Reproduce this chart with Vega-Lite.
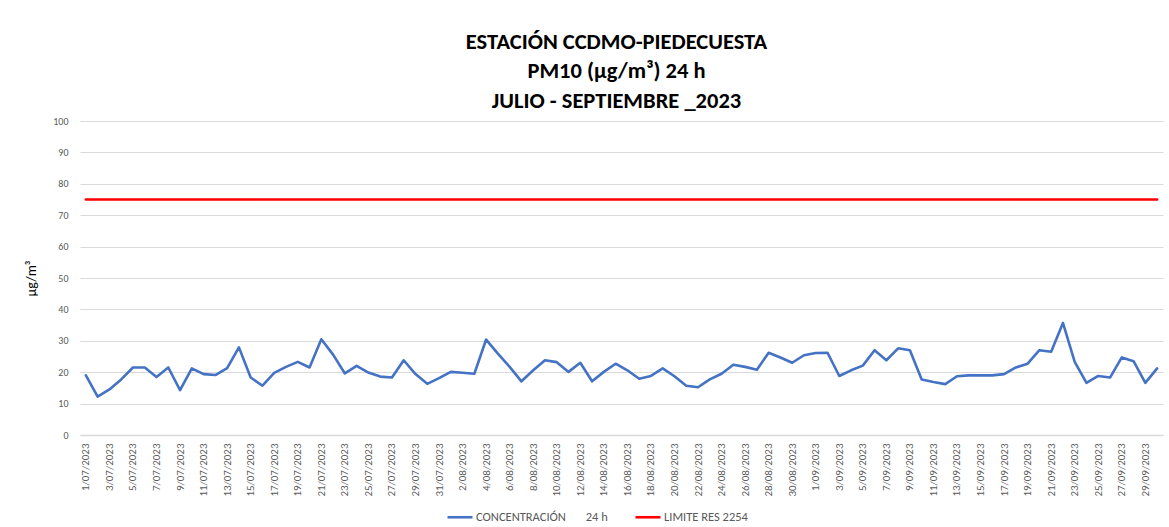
{
  "$schema": "https://vega.github.io/schema/vega-lite/v6.json",
  "autosize": {"type": "none"},
  "width": 1083,
  "height": 314,
  "padding": {"left": 80, "top": 121, "right": 6, "bottom": 92},
  "background": "white",
  "config": {
    "view": {"stroke": null},
    "font": "Carlito, Lato, Liberation Sans, sans-serif"
  },
  "title": {
    "text": ["ESTACIÓN CCDMO-PIEDECUESTA", "PM10 (µg/m³) 24 h", "JULIO - SEPTIEMBRE _2023"],
    "font": "Carlito, Lato, sans-serif",
    "fontSize": 22.5,
    "fontWeight": "bold",
    "color": "#000000",
    "lineHeight": 29.5,
    "anchor": "middle",
    "dx": -5,
    "offset": 4
  },
  "data": {
    "values": [
      {"fecha": "1/07/2023", "concentracion": 19.0, "limite": 75},
      {"fecha": "2/07/2023", "concentracion": 12.2, "limite": 75},
      {"fecha": "3/07/2023", "concentracion": 14.5, "limite": 75},
      {"fecha": "4/07/2023", "concentracion": 17.7, "limite": 75},
      {"fecha": "5/07/2023", "concentracion": 21.5, "limite": 75},
      {"fecha": "6/07/2023", "concentracion": 21.5, "limite": 75},
      {"fecha": "7/07/2023", "concentracion": 18.5, "limite": 75},
      {"fecha": "8/07/2023", "concentracion": 21.5, "limite": 75},
      {"fecha": "9/07/2023", "concentracion": 14.3, "limite": 75},
      {"fecha": "10/07/2023", "concentracion": 21.2, "limite": 75},
      {"fecha": "11/07/2023", "concentracion": 19.4, "limite": 75},
      {"fecha": "12/07/2023", "concentracion": 19.1, "limite": 75},
      {"fecha": "13/07/2023", "concentracion": 21.3, "limite": 75},
      {"fecha": "14/07/2023", "concentracion": 27.9, "limite": 75},
      {"fecha": "15/07/2023", "concentracion": 18.3, "limite": 75},
      {"fecha": "16/07/2023", "concentracion": 15.7, "limite": 75},
      {"fecha": "17/07/2023", "concentracion": 19.8, "limite": 75},
      {"fecha": "18/07/2023", "concentracion": 21.7, "limite": 75},
      {"fecha": "19/07/2023", "concentracion": 23.3, "limite": 75},
      {"fecha": "20/07/2023", "concentracion": 21.5, "limite": 75},
      {"fecha": "21/07/2023", "concentracion": 30.5, "limite": 75},
      {"fecha": "22/07/2023", "concentracion": 25.6, "limite": 75},
      {"fecha": "23/07/2023", "concentracion": 19.6, "limite": 75},
      {"fecha": "24/07/2023", "concentracion": 22.0, "limite": 75},
      {"fecha": "25/07/2023", "concentracion": 19.9, "limite": 75},
      {"fecha": "26/07/2023", "concentracion": 18.6, "limite": 75},
      {"fecha": "27/07/2023", "concentracion": 18.3, "limite": 75},
      {"fecha": "28/07/2023", "concentracion": 23.8, "limite": 75},
      {"fecha": "29/07/2023", "concentracion": 19.4, "limite": 75},
      {"fecha": "30/07/2023", "concentracion": 16.3, "limite": 75},
      {"fecha": "31/07/2023", "concentracion": 18.1, "limite": 75},
      {"fecha": "1/08/2023", "concentracion": 20.1, "limite": 75},
      {"fecha": "2/08/2023", "concentracion": 19.8, "limite": 75},
      {"fecha": "3/08/2023", "concentracion": 19.5, "limite": 75},
      {"fecha": "4/08/2023", "concentracion": 30.4, "limite": 75},
      {"fecha": "5/08/2023", "concentracion": 25.9, "limite": 75},
      {"fecha": "6/08/2023", "concentracion": 21.7, "limite": 75},
      {"fecha": "7/08/2023", "concentracion": 17.1, "limite": 75},
      {"fecha": "8/08/2023", "concentracion": 20.6, "limite": 75},
      {"fecha": "9/08/2023", "concentracion": 23.8, "limite": 75},
      {"fecha": "10/08/2023", "concentracion": 23.2, "limite": 75},
      {"fecha": "11/08/2023", "concentracion": 20.1, "limite": 75},
      {"fecha": "12/08/2023", "concentracion": 23.0, "limite": 75},
      {"fecha": "13/08/2023", "concentracion": 17.1, "limite": 75},
      {"fecha": "14/08/2023", "concentracion": 20.1, "limite": 75},
      {"fecha": "15/08/2023", "concentracion": 22.7, "limite": 75},
      {"fecha": "16/08/2023", "concentracion": 20.6, "limite": 75},
      {"fecha": "17/08/2023", "concentracion": 17.9, "limite": 75},
      {"fecha": "18/08/2023", "concentracion": 18.8, "limite": 75},
      {"fecha": "19/08/2023", "concentracion": 21.2, "limite": 75},
      {"fecha": "20/08/2023", "concentracion": 18.7, "limite": 75},
      {"fecha": "21/08/2023", "concentracion": 15.7, "limite": 75},
      {"fecha": "22/08/2023", "concentracion": 15.2, "limite": 75},
      {"fecha": "23/08/2023", "concentracion": 17.7, "limite": 75},
      {"fecha": "24/08/2023", "concentracion": 19.5, "limite": 75},
      {"fecha": "25/08/2023", "concentracion": 22.4, "limite": 75},
      {"fecha": "26/08/2023", "concentracion": 21.7, "limite": 75},
      {"fecha": "27/08/2023", "concentracion": 20.8, "limite": 75},
      {"fecha": "28/08/2023", "concentracion": 26.2, "limite": 75},
      {"fecha": "29/08/2023", "concentracion": 24.7, "limite": 75},
      {"fecha": "30/08/2023", "concentracion": 23.0, "limite": 75},
      {"fecha": "31/08/2023", "concentracion": 25.4, "limite": 75},
      {"fecha": "1/09/2023", "concentracion": 26.1, "limite": 75},
      {"fecha": "2/09/2023", "concentracion": 26.2, "limite": 75},
      {"fecha": "3/09/2023", "concentracion": 18.8, "limite": 75},
      {"fecha": "4/09/2023", "concentracion": 20.6, "limite": 75},
      {"fecha": "5/09/2023", "concentracion": 22.1, "limite": 75},
      {"fecha": "6/09/2023", "concentracion": 27.0, "limite": 75},
      {"fecha": "7/09/2023", "concentracion": 23.8, "limite": 75},
      {"fecha": "8/09/2023", "concentracion": 27.6, "limite": 75},
      {"fecha": "9/09/2023", "concentracion": 27.0, "limite": 75},
      {"fecha": "10/09/2023", "concentracion": 17.7, "limite": 75},
      {"fecha": "11/09/2023", "concentracion": 16.9, "limite": 75},
      {"fecha": "12/09/2023", "concentracion": 16.2, "limite": 75},
      {"fecha": "13/09/2023", "concentracion": 18.7, "limite": 75},
      {"fecha": "14/09/2023", "concentracion": 19.0, "limite": 75},
      {"fecha": "15/09/2023", "concentracion": 19.0, "limite": 75},
      {"fecha": "16/09/2023", "concentracion": 19.0, "limite": 75},
      {"fecha": "17/09/2023", "concentracion": 19.4, "limite": 75},
      {"fecha": "18/09/2023", "concentracion": 21.5, "limite": 75},
      {"fecha": "19/09/2023", "concentracion": 22.7, "limite": 75},
      {"fecha": "20/09/2023", "concentracion": 27.0, "limite": 75},
      {"fecha": "21/09/2023", "concentracion": 26.5, "limite": 75},
      {"fecha": "22/09/2023", "concentracion": 35.7, "limite": 75},
      {"fecha": "23/09/2023", "concentracion": 23.3, "limite": 75},
      {"fecha": "24/09/2023", "concentracion": 16.6, "limite": 75},
      {"fecha": "25/09/2023", "concentracion": 18.8, "limite": 75},
      {"fecha": "26/09/2023", "concentracion": 18.3, "limite": 75},
      {"fecha": "27/09/2023", "concentracion": 24.7, "limite": 75},
      {"fecha": "28/09/2023", "concentracion": 23.5, "limite": 75},
      {"fecha": "29/09/2023", "concentracion": 16.6, "limite": 75},
      {"fecha": "30/09/2023", "concentracion": 21.2, "limite": 75}
    ]
  },
  "transform": [
    {"fold": ["concentracion", "limite"], "as": ["serie", "valor"]}
  ],
  "mark": {"type": "line", "strokeWidth": 2.6, "strokeCap": "round", "strokeJoin": "round"},
  "encoding": {
    "x": {
      "field": "fecha",
      "type": "ordinal",
      "sort": null,
      "scale": {"type": "point", "padding": 0.5},
      "axis": {
        "title": null,
        "values": ["1/07/2023","3/07/2023","5/07/2023","7/07/2023","9/07/2023","11/07/2023","13/07/2023","15/07/2023","17/07/2023","19/07/2023","21/07/2023","23/07/2023","25/07/2023","27/07/2023","29/07/2023","31/07/2023","2/08/2023","4/08/2023","6/08/2023","8/08/2023","10/08/2023","12/08/2023","14/08/2023","16/08/2023","18/08/2023","20/08/2023","22/08/2023","24/08/2023","26/08/2023","28/08/2023","30/08/2023","1/09/2023","3/09/2023","5/09/2023","7/09/2023","9/09/2023","11/09/2023","13/09/2023","15/09/2023","17/09/2023","19/09/2023","21/09/2023","23/09/2023","25/09/2023","27/09/2023","29/09/2023"],
        "labelAngle": -90,
        "labelAlign": "right",
        "labelBaseline": "middle",
        "labelFontSize": 11,
        "labelColor": "#595959",
        "labelPadding": 8,
        "labelOverlap": false,
        "ticks": false,
        "grid": false,
        "domain": true,
        "domainColor": "#d9d9d9",
        "domainWidth": 1.3
      }
    },
    "y": {
      "field": "valor",
      "type": "quantitative",
      "scale": {"domain": [0, 100], "nice": false},
      "axis": {
        "title": "µg/m³",
        "titleFontSize": 14,
        "titleFontWeight": "normal",
        "titleColor": "#000000",
        "titlePadding": 14,
        "values": [0, 10, 20, 30, 40, 50, 60, 70, 80, 90, 100],
        "labelFontSize": 10,
        "labelColor": "#595959",
        "labelPadding": 12,
        "ticks": false,
        "domain": false,
        "grid": true,
        "gridColor": "#d9d9d9",
        "gridWidth": 1
      }
    },
    "color": {
      "field": "serie",
      "type": "nominal",
      "scale": {"domain": ["concentracion", "limite"], "range": ["#4472C4", "#FF0000"]},
      "legend": {
        "title": null,
        "orient": "none",
        "direction": "horizontal",
        "legendX": 366,
        "legendY": 382,
        "symbolType": "stroke",
        "symbolSize": 625,
        "symbolStrokeWidth": 2.6,
        "labelFontSize": 12.5,
        "labelColor": "#595959",
        "labelOffset": 2,
        "columnPadding": 22,
        "labelExpr": "datum.value == 'concentracion' ? 'CONCENTRACIÓN\u00a0\u00a0\u00a0\u00a0\u00a0\u00a0\u00a024 h' : 'LIMITE RES 2254'"
      }
    }
  }
}
